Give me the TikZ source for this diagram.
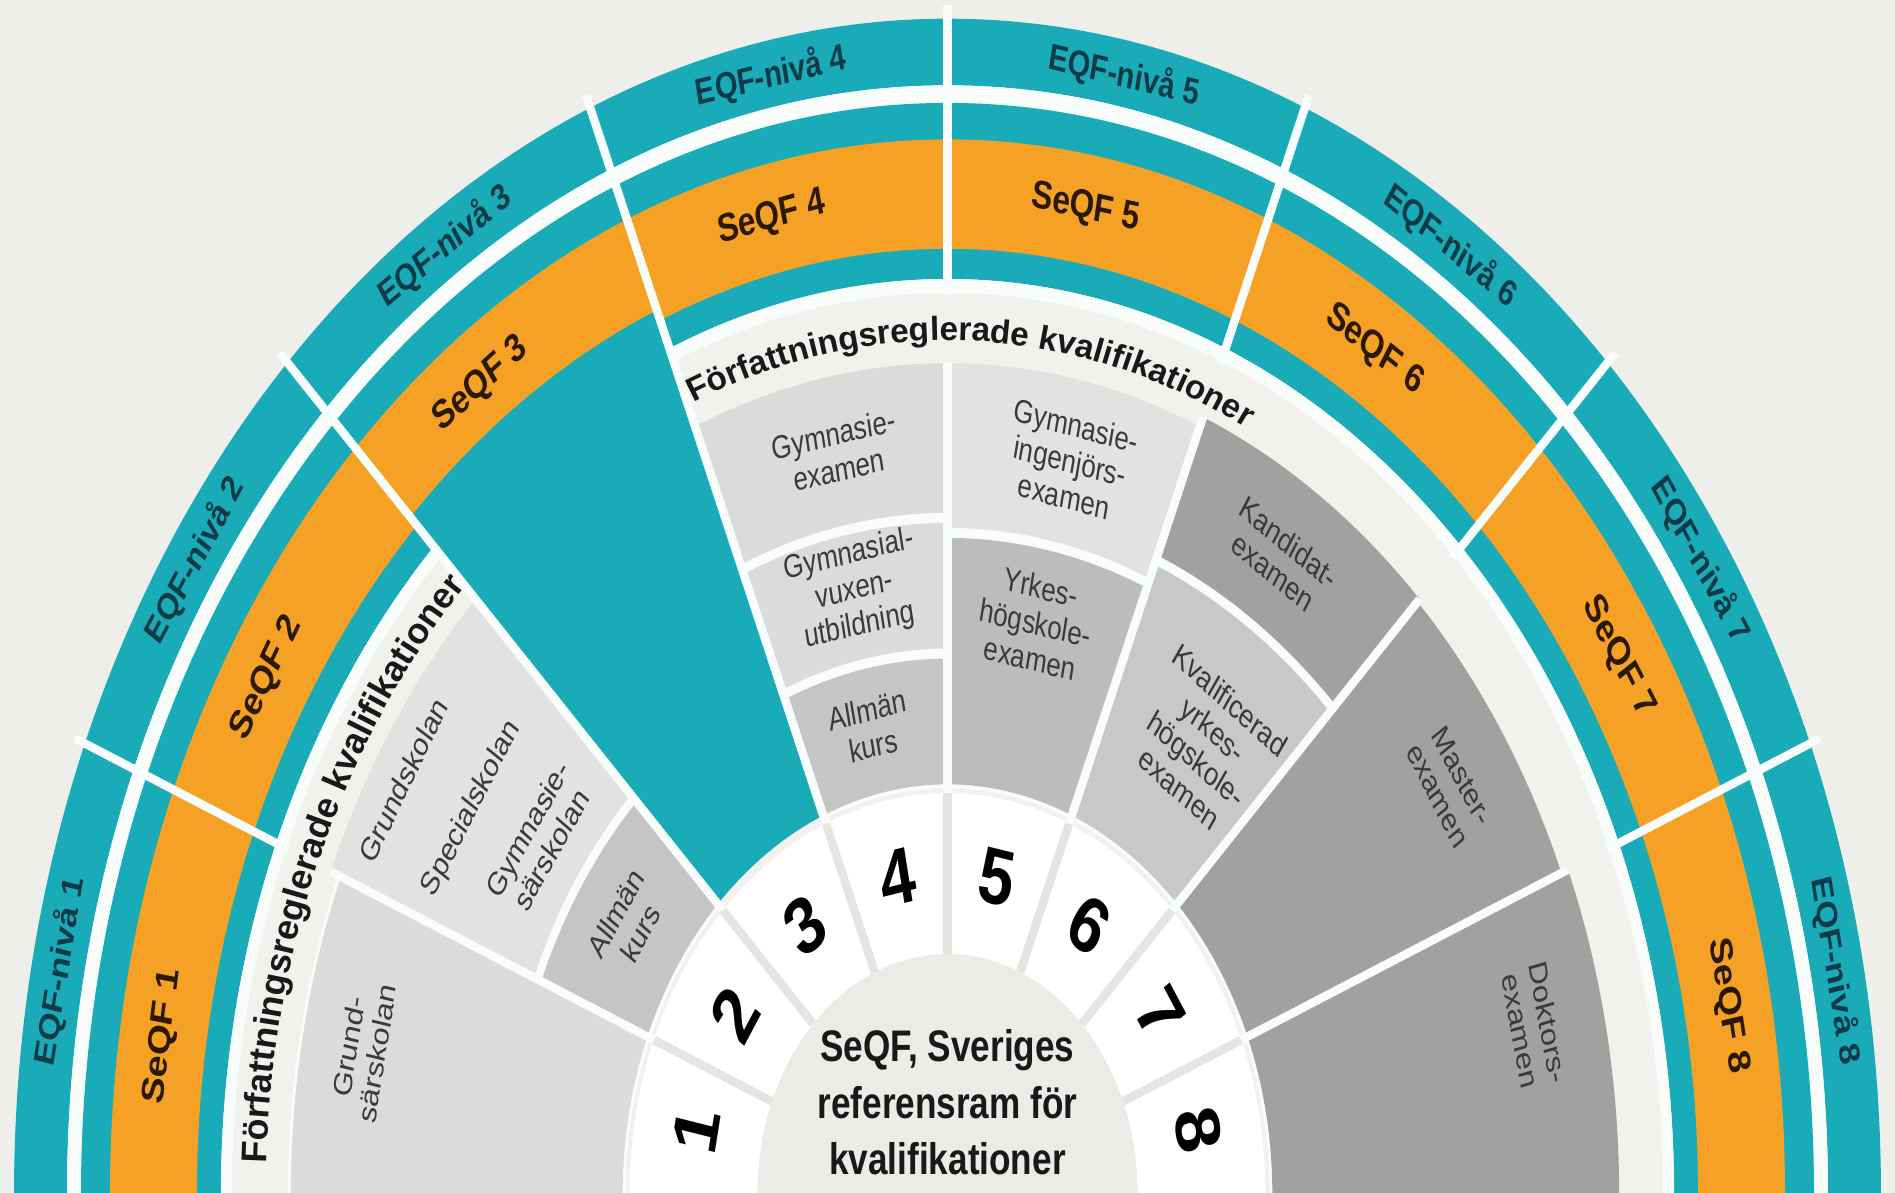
\documentclass[tikz,border=0pt]{standalone}
\usepackage{fontspec}
\setmainfont{Liberation Sans}
\usetikzlibrary{decorations.text}

\definecolor{pagebg}{HTML}{EEEEEA}
\definecolor{fieldbg}{HTML}{F1F1EE}
\definecolor{tealband}{HTML}{1AABB8}
\definecolor{orangeband}{HTML}{F4A125}
\definecolor{eqftext}{HTML}{0F3A48}
\definecolor{seqftext}{HTML}{2A1800}
\definecolor{sepwhite}{HTML}{F8FCFB}
\definecolor{disc}{HTML}{EBEBE8}
\definecolor{numsep}{HTML}{E4E4E1}
\definecolor{qlight}{HTML}{DBDBD9}
\definecolor{qlighter}{HTML}{E2E2E0}
\definecolor{qmid}{HTML}{C5C5C3}
\definecolor{qkval}{HTML}{C8C8C6}
\definecolor{qmiddark}{HTML}{BCBCBA}
\definecolor{qdark}{HTML}{A1A19F}
\definecolor{qtext}{HTML}{3A3A3A}

% annular sector: [colour]{start angle}{end angle}{inner radius}{outer radius}
\newcommand\annsec[5][]{\fill[#1] (#2:#4) arc[start angle=#2,end angle=#3,radius=#4] -- (#3:#5) arc[start angle=#3,end angle=#2,radius=#5] -- cycle;}
% radial separator: [colour]{angle}{from radius}{to radius}
\newcommand\radsep[4][sepwhite]{\draw[#1, line width=2.4pt] (#2:#3) -- (#2:#4);}
\newcommand\bandfont{\fontsize{9.5}{11}\selectfont\bfseries}
\newcommand\bandfontside{\fontsize{10.2}{12}\selectfont\bfseries}

\tikzset{
  eqflabel/.style={transform shape, font=\fontsize{8.3}{10}\selectfont\bfseries, text=eqftext, inner sep=0pt},
  seqflabel/.style={transform shape, font=\fontsize{9}{11}\selectfont\bfseries, text=seqftext, inner sep=0pt},
  numlabel/.style={transform shape, font=\fontsize{18}{20}\selectfont\bfseries, text=black, inner sep=0pt},
  qual/.style={transform shape, font=\fontsize{7.4}{8.2}\selectfont, text=qtext, align=center, inner sep=0pt},
  title/.style={transform shape, font=\fontsize{10}{12.8}\selectfont\bfseries, text=black!90, align=center, inner sep=0pt},
  bandtext/.style={decorate, decoration={text along path, text align=center, text color=black!90,
      text={|\bandfont|Författningsreglerade kvalifikationer}}},
  bandtextside/.style={decorate, decoration={text along path, text align=center, text color=black!90,
      text={|\bandfontside|Författningsreglerade kvalifikationer}}}
}

\begin{document}
\begin{tikzpicture}
\useasboundingbox (0,0) rectangle (18.95,11.93);
\fill[pagebg] (0,0) rectangle (18.95,11.93);

\begin{scope}[shift={(9.475,0)}, yscale=1.258, x=0.01cm, y=0.01cm]
  % outer EQF ring and SeQF band
  \annsec[tealband]{0}{180}{881}{934}
  \annsec[sepwhite]{0}{180}{867}{881}
  \annsec[tealband]{0}{180}{727}{867}
  \annsec[orangeband]{0}{180}{751}{838}

  % inner field
  \fill[fieldbg] (0:716) arc[start angle=0,end angle=180,radius=716] -- cycle;
  \annsec[sepwhite]{0}{112.5}{716}{727}
  \annsec[sepwhite]{135}{180}{716}{727}

  % level 3: teal wedge
  \annsec[tealband]{112.5}{135}{325}{760}

  % white underlay for the qualification boxes
  \annsec[sepwhite]{135}{180}{322}{660}
  \annsec[sepwhite]{135}{157.5}{322}{668}
  \annsec[sepwhite]{67.5}{112.5}{322}{660}
  \annsec[sepwhite]{0}{67.5}{322}{665}

  % qualification boxes
  \annsec[qlight]{157.5}{180}{325}{657}
  \annsec[qmid]{135}{157.5}{325}{440}
  \annsec[qlighter]{135}{157.5}{448}{668}
  \annsec[qmid]{90}{112.5}{325}{425}
  \annsec[qlight]{90}{112.5}{433}{533}
  \annsec[qlight]{90}{112.5}{541}{660}
  \annsec[qmiddark]{67.5}{90}{325}{521}
  \annsec[qlighter]{67.5}{90}{529}{660}
  \annsec[qkval]{45}{67.5}{325}{541}
  \annsec[qdark]{45}{67.5}{549}{668}
  \annsec[qdark]{22.5}{45}{325}{665}
  \annsec[qdark]{0}{22.5}{325}{672}

  % number ring and centre disc
  \annsec[white]{0}{180}{190}{318}
  \fill[disc] (0:190) arc[start angle=0,end angle=180,radius=190] -- cycle;

  % separators
  \foreach \a in {22.5,45,...,157.5}{
    \radsep{\a}{714}{945}
    \radsep[numsep]{\a}{190}{318}
  }
  \radsep{112.5}{318}{714}
  \radsep{135}{318}{714}
  \radsep{157.5}{318}{668}
  \radsep{90}{318}{660}
  \radsep{67.5}{318}{668}
  \radsep{45}{318}{668}
  \radsep{22.5}{318}{672}

  % EQF labels and level numbers
  \foreach \n in {1,...,8}{
    \pgfmathsetmacro\ang{180-22.5*(\n-0.5)}
    \pgfmathsetmacro\rot{\ang-90}
    \node[eqflabel, rotate=\rot] (eqf\n) at (\ang:906) {EQF-nivå \n};
    \node[numlabel, rotate=\rot] (num\n) at (\ang:256) {\n};
  }
  % SeQF labels
  \foreach \n/\ang in {1/171,2/149,3/126,4/102.8,5/80,6/57.5,7/32.4,8/10.8}{
    \pgfmathsetmacro\rot{\ang-90}
    \node[seqflabel, rotate=\rot] (seqf\n) at (\ang:795) {SeQF \n};
  }

  % curved headings
  \path[bandtextside] (186:682) arc[start angle=186,end angle=126,radius=682];
  \path[bandtext] (118:678) arc[start angle=118,end angle=58,radius=678];

  % qualifications
  \node[qual, rotate=79]    (grsar) at (169:596)   {Grund-\\särskolan};
  \node[qual, rotate=58.9]  (grund) at (148.9:636) {Grundskolan};
  \node[qual, rotate=57.3]  (spec)  at (147.3:566) {Specialskolan};
  \node[qual, rotate=55.4]  (gysar) at (145.4:496) {Gymnasie-\\särskolan};
  \node[qual, rotate=56.1]  (allm2) at (146.1:385) {Allmän\\kurs};
  \node[qual, rotate=10.7]  (gyex)  at (100.7:600) {Gymnasie-\\examen};
  \node[qual, rotate=11]    (gyvux) at (101:488)   {Gymnasial-\\vuxen-\\utbildning};
  \node[qual, rotate=11.8]  (allm4) at (101.8:378) {Allmän\\kurs};
  \node[qual, rotate=-11.9] (gying) at (78.1:595)  {Gymnasie-\\ingenjörs-\\examen};
  \node[qual, rotate=-11]   (yhex)  at (79:462)    {Yrkes-\\högskole-\\examen};
  \node[qual, rotate=-33.4] (kand)  at (56.6:606)  {Kandidat-\\examen};
  \node[qual, rotate=-35.8] (kvyh)  at (54.2:440)  {Kvalificerad\\yrkes-\\högskole-\\examen};
  \node[qual, rotate=-57.2] (mast)  at (32.8:598)  {Master-\\examen};
  \node[qual, rotate=-77.3] (dokt)  at (12.7:602)  {Doktors-\\examen};

  % centre title
  \node[title] (title) at (90:72) {SeQF, Sveriges\\referensram för\\kvalifikationer};
\end{scope}
\end{tikzpicture}
\end{document}
